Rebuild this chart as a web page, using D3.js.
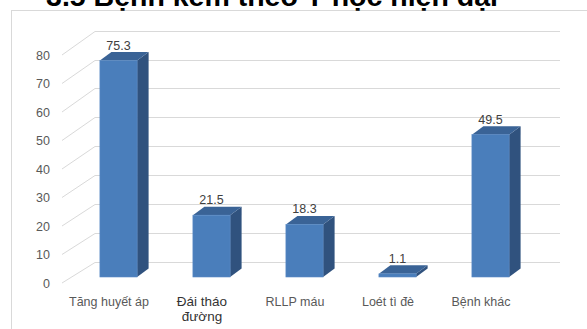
<!DOCTYPE html>
<html>
<head>
<meta charset="utf-8">
<script src="https://cdn.jsdelivr.net/npm/d3@7"></script>
<style>
  html, body { margin: 0; padding: 0; background: #fff; }
  svg { display: block; }
</style>
</head>
<body>
<svg id="chart" width="587" height="329"></svg>
<script>
// Data
const title = "3.5 Bệnh kèm theo Y học hiện đại";
const categories = ["Tăng huyết áp", "Đái tháo đường", "RLLP máu", "Loét tì đè", "Bệnh khác"];
const categoryLines = [["Tăng huyết áp"], ["Đái tháo", "đường"], ["RLLP máu"], ["Loét tì đè"], ["Bệnh khác"]];
const values = [75.3, 21.5, 18.3, 1.1, 49.5];
const tickValues = [0, 10, 20, 30, 40, 50, 60, 70, 80];

const svg = d3.select("#chart");

// Chart area frame
svg.append("rect")
  .attr("x", 11.5).attr("y", 10.5)
  .attr("width", 600).attr("height", 340)
  .attr("fill", "#fff").attr("stroke", "#d9d9d9").attr("stroke-width", 1);

// Title, sitting above the frame's top edge
svg.append("text")
  .attr("x", 272).attr("y", 6)
  .attr("text-anchor", "middle")
  .attr("font-family", "'Liberation Sans', Arial, sans-serif")
  .attr("font-weight", "bold")
  .attr("font-size", 28.5)
  .attr("fill", "#000")
  .text(title);

// Scales: back wall, side wall front edge, bar front plane
const backY = d3.scaleLinear().domain([0, 80]).range([261.5, 30.7]);
const sideY = d3.scaleLinear().domain([0, 80]).range([283, 55]);
const frontY = d3.scaleLinear().domain([0, 80]).range([277, 47]);
const x = d3.scaleBand().domain(categories).range([72, 537])
  .paddingInner(0.6).paddingOuter(0.3);
const depthX = 11.5, depthY = -8.5;
const wallLeft = 95, wallRight = 560, sideLeft = 62;

// Gridlines on back wall and side wall
const grid = svg.append("g").attr("stroke", "#d9d9d9").attr("stroke-width", 1).attr("fill", "none");
tickValues.forEach(t => {
  const yb = Math.round(backY(t)) + 0.5;
  grid.append("line").attr("x1", wallLeft).attr("x2", wallRight).attr("y1", yb).attr("y2", yb);
  grid.append("line").attr("x1", sideLeft).attr("y1", sideY(t)).attr("x2", wallLeft).attr("y2", yb);
});

// Y tick labels
svg.append("g").selectAll("text").data(tickValues).join("text")
  .attr("x", 50).attr("y", d => sideY(d) + 4.5)
  .attr("text-anchor", "end")
  .attr("font-family", "'Liberation Sans', Arial, sans-serif")
  .attr("font-size", 12.5)
  .attr("fill", "#595959")
  .text(d => d);

// Bars (front, side, top faces)
const bw = x.bandwidth();
const bars = svg.append("g");
categories.forEach((c, i) => {
  const v = values[i];
  const x0 = x(c), x1 = x0 + bw;
  const yt = frontY(v), yb = frontY(0);
  const g = bars.append("g");
  g.append("polygon")
    .attr("points", [[x1, yt], [x1 + depthX, yt + depthY], [x1 + depthX, yb + depthY], [x1, yb]].join(" "))
    .attr("fill", "#30527e");
  g.append("polygon")
    .attr("points", [[x0, yt], [x0 + depthX, yt + depthY], [x1 + depthX, yt + depthY], [x1, yt]].join(" "))
    .attr("fill", "#3a6396");
  g.append("rect")
    .attr("x", x0).attr("y", yt).attr("width", bw).attr("height", yb - yt)
    .attr("fill", "#4a7ebb").attr("stroke", "#5a8bc6").attr("stroke-width", 0.6);

  // value label
  svg.append("text")
    .attr("x", x0 + bw / 2).attr("y", yt - 11)
    .attr("text-anchor", "middle")
    .attr("font-family", "'Liberation Sans', Arial, sans-serif")
    .attr("font-size", 12.5)
    .attr("fill", "#404040")
    .text(v);
});

// Category labels
categories.forEach((c, i) => {
  const cx = x(c) + bw / 2 - 9.5;
  const special = categoryLines[i].length > 1;
  const t = svg.append("text")
    .attr("text-anchor", "middle")
    .attr("font-family", "'Liberation Sans', Arial, sans-serif")
    .attr("font-size", special ? 13.5 : 12.5)
    .attr("fill", special ? "#333333" : "#595959");
  categoryLines[i].forEach((ln, k) => {
    t.append("tspan").attr("x", cx).attr("y", 306 + k * 15).text(ln);
  });
});
</script>
</body>
</html>
